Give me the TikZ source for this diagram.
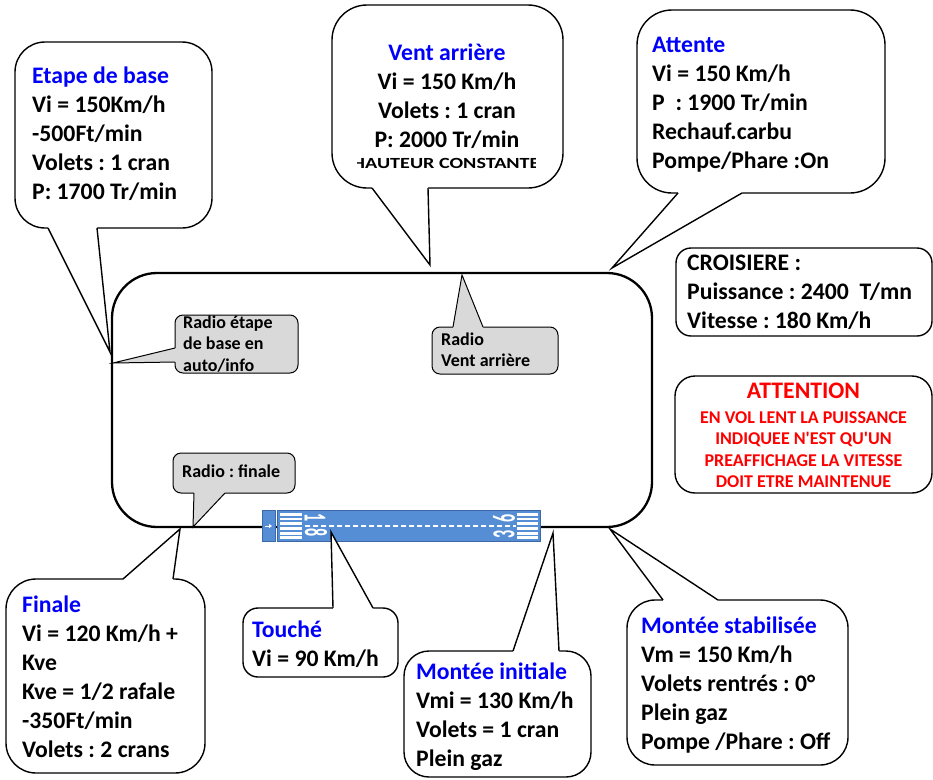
\documentclass[tikz,border=0pt]{standalone}
\usepackage{fontspec}
\setmainfont{Carlito}[Ligatures=TeXOff]
\usetikzlibrary{calc,arrows.meta}
\frenchspacing
\definecolor{titleblue}{RGB}{0,0,250}
\definecolor{warnred}{RGB}{255,0,0}
\definecolor{radiogray}{RGB}{217,217,217}
\definecolor{runwayblue}{RGB}{85,142,213}
\definecolor{runwayedge}{RGB}{60,105,165}
\newcommand\fsz[2]{\fontsize{#1}{#2}\selectfont}
\newcommand\drawcallout[8]{%
  \draw[#1] #4 rectangle #5;
  \fill[#3] #6 -- #7 -- #8 -- ($#8!2.5pt!-90:#6$) -- ($#6!2.5pt!90:#8$) -- cycle;
  \draw[#2] #6 -- #7 -- #8;
}
\begin{document}
\begin{tikzpicture}[x=1pt,y=-1pt,
  bubble/.style={draw=black, line width=1.4pt, fill=white, rounded corners=#1},
  bubbleptr/.style={draw=black, line width=1.4pt, line join=miter},
  radiobox/.style={draw=black, line width=1pt, fill=radiogray, rounded corners=8pt},
  radioptr/.style={draw=black, line width=1pt},
  circuit/.style={draw=black, line width=2.3pt, rounded corners=45pt},
  txt/.style={inner sep=0pt, anchor=base west, font=\bfseries\frenchspacing\fsz{23.7}{29}},
  ctxt/.style={inner sep=0pt, anchor=base, font=\bfseries\frenchspacing\fsz{23.7}{29}},
  smalltxt/.style={inner sep=0pt, anchor=base west, font=\bfseries\frenchspacing\fsz{18}{21.5}},
  redtxt/.style={inner sep=0pt, anchor=base, text=warnred, font=\bfseries\frenchspacing\fsz{18}{21.5}},
  rwnum/.style={inner sep=0pt, text=white, font=\bfseries\fsz{32}{32}},
  stripe/.style={fill=white}
]
\useasboundingbox (0,0) rectangle (933,779);

% circuit
\draw[circuit] (112,273) rectangle (652,527);

% runway
\draw[fill=runwayblue, draw=runwayedge, line width=0.5pt] (262,510) rectangle (275,541);
\draw[fill=runwayblue, draw=runwayedge, line width=0.5pt] (277,510) rectangle (540,541);
\draw[white, line width=1pt, -{Triangle[length=3pt,width=4pt]}] (265,526) -- (272,526);
\foreach \yy in {514.3,519,523.3,528.3,533.3,537.7}{
  \fill[stripe] (280,\yy) ++(0,-1.3) rectangle ++(22,2.6);
  \fill[stripe] (517,\yy) ++(0,-1.3) rectangle ++(21,2.6);
}
\draw[white, line width=1.2pt, dash pattern=on 5pt off 3pt] (305,526) -- (516,526);
\node[rwnum, rotate=-90] (n1) at (315,518) {\scalebox{0.5}[1]{1}};
\node[rwnum, rotate=-90] (n8) at (316,533) {\scalebox{0.5}[1]{8}};
\node[rwnum, rotate=90] (n6) at (504,518) {\scalebox{0.5}[1]{6}};
\node[rwnum, rotate=90] (n3) at (504,534) {\scalebox{0.5}[1]{3}};

% callouts
\drawcallout{bubble=30pt}{bubbleptr}{white}{(15,42)}{(212,228)}{(48,228)}{(110,352)}{(97,228)}
\drawcallout{bubble=35pt}{bubbleptr}{white}{(332,5)}{(563,188)}{(372,188)}{(430,265)}{(428,188)}
\drawcallout{bubble=35pt}{bubbleptr}{white}{(637,10)}{(885,193)}{(678,193)}{(612,268)}{(742,193)}
\drawcallout{bubble=30pt}{bubbleptr}{white}{(6,579)}{(205,773)}{(173,579)}{(180,529)}{(123,579)}
\drawcallout{bubble=15pt}{bubbleptr}{white}{(243,608)}{(398,677)}{(373,608)}{(331,532)}{(333,608)}
\drawcallout{bubble=25pt}{bubbleptr}{white}{(404,651)}{(591,777)}{(559,651)}{(553,533)}{(513,651)}
\drawcallout{bubble=28pt}{bubbleptr}{white}{(627,600)}{(848,765)}{(718,600)}{(610,529)}{(663,600)}
\drawcallout{radiobox}{radioptr}{radiogray}{(175,315)}{(298,373)}{(175,348)}{(113,363)}{(175,362)}
\drawcallout{radiobox}{radioptr}{radiogray}{(173,453)}{(295,493)}{(194,493)}{(193,527)}{(225,493)}
\drawcallout{radiobox}{radioptr}{radiogray}{(432,327)}{(558,374)}{(483,327)}{(462,275)}{(453,327)}

% plain boxes
\draw[bubble=15pt] (676,248) rectangle (932,336);
\draw[bubble=20pt] (675,376) rectangle (932,493);

% texts
\node[txt] (etape) at (32,83) {\begin{tabular}[t]{@{}l@{}}\textcolor{titleblue}{Etape de base}\\ Vi = 150Km/h\\ -500Ft/min\\ Volets : 1 cran\\ P: 1700 Tr/min\end{tabular}};
\node[ctxt] (vent) at (447,60) {\begin{tabular}[t]{@{}c@{}}\textcolor{titleblue}{Vent arrière}\\ Vi = 150 Km/h\\ Volets : 1 cran\\ P: 2000 Tr/min\end{tabular}};
\begin{scope}
\clip (357,150) rectangle (535,180);
\node[inner sep=0pt, anchor=base, font=\bfseries\fsz{15.5}{18}] (hauteur) at (446,168) {\scalebox{1.3}[1]{HAUTEUR CONSTANTE}};
\end{scope}
\node[txt] (attente) at (652,52) {\begin{tabular}[t]{@{}l@{}}\textcolor{titleblue}{Attente}\\ Vi = 150 Km/h\\ P\ \ : 1900 Tr/min\\ Rechauf.carbu\\ Pompe/Phare :On\end{tabular}};
\node[txt] (croisiere) at (687,270) {\begin{tabular}[t]{@{}l@{}}CROISIERE :\\ Puissance : 2400\ \ T/mn\\ Vitesse : 180 Km/h\end{tabular}};
\node[ctxt, text=warnred] (attention) at (803.5,398) {ATTENTION};
\node[redtxt] (attnote) at (803.5,423) {\begin{tabular}[t]{@{}c@{}}EN VOL LENT LA PUISSANCE\\ INDIQUEE N'EST QU'UN\\ PREAFFICHAGE LA VITESSE\\ DOIT ETRE MAINTENUE\end{tabular}};
\node[smalltxt] (radioetape) at (183,328) {\begin{tabular}[t]{@{}l@{}}Radio étape\\ de base en\\ auto/info\end{tabular}};
\node[smalltxt] (radiofinale) at (182,477) {Radio : finale};
\node[smalltxt] (radiovent) at (441,345) {\begin{tabular}[t]{@{}l@{}}Radio\\ Vent arrière\end{tabular}};
\node[txt] (finale) at (22,612) {\begin{tabular}[t]{@{}l@{}}\textcolor{titleblue}{Finale}\\ Vi = 120 Km/h +\\ Kve\\ Kve = 1/2 rafale\\ -350Ft/min\\ Volets : 2 crans\end{tabular}};
\node[txt] (touche) at (252,637) {\begin{tabular}[t]{@{}l@{}}\textcolor{titleblue}{Touché}\\ Vi = 90 Km/h\end{tabular}};
\node[txt] (monteeinit) at (416,679) {\begin{tabular}[t]{@{}l@{}}\textcolor{titleblue}{Montée initiale}\\ Vmi = 130 Km/h\\ Volets = 1 cran\\ Plein gaz\end{tabular}};
\node[txt] (monteestab) at (641,633) {\begin{tabular}[t]{@{}l@{}}\textcolor{titleblue}{Montée stabilisée}\\ Vm = 150 Km/h\\ Volets rentrés : 0°\\ Plein gaz\\ Pompe /Phare : Off\end{tabular}};
\end{tikzpicture}
\end{document}
